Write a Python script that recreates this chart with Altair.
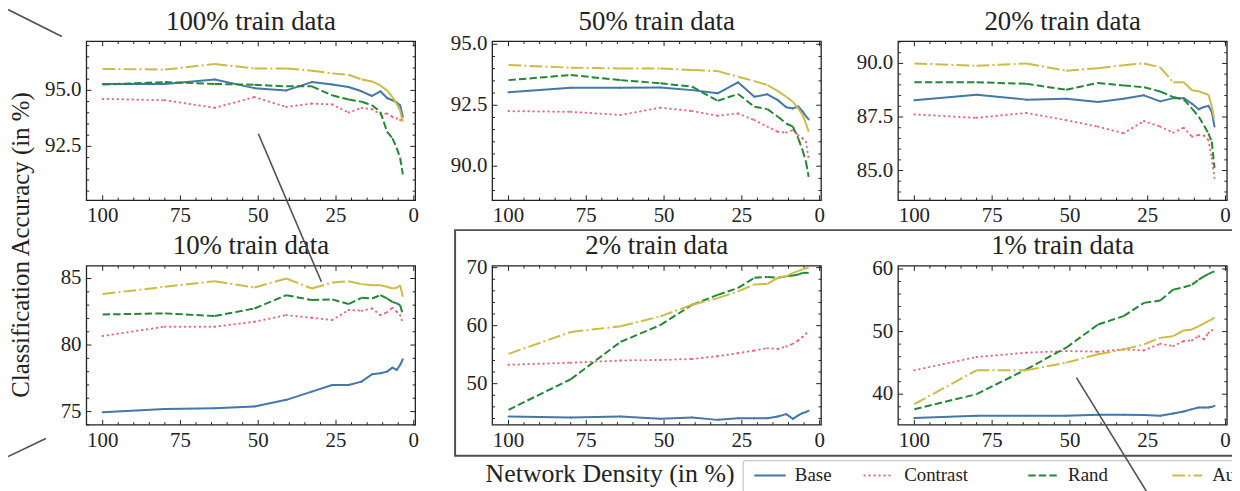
import math
import numpy as np
import pandas as pd
import altair as alt

FONT = "Liberation Serif"
INK = "#222222"
GREY = "#505050"
CW, CH = 1232, 483          # drawing area (page minus 8px margin)
PW, PH = 331, 160           # one panel's plot area

series_names = ["Base", "Contrast", "Rand", "Auto"]
series_colors = ["#4477AA", "#EE6677", "#228833", "#CCBB44"]
series_dashes = [None, [0.5, 4.5], [7.4, 3.2], [12.8, 3.2, 2, 3.2]]
series_caps = ["round", "round", "butt", "butt"]

density = [100, 80, 64, 51.2, 40.96, 32.77, 26.21, 20.97, 16.78, 13.42, 10.74, 8.59, 6.87, 5.5, 4.4, 3.52]
x_tick_values = [100, 75, 50, 25, 0]

titles = ["100% train data", "50% train data", "20% train data",
          "10% train data", "2% train data", "1% train data"]

base_100 = [95.29, 95.29, 95.49, 95.10, 95.00, 95.37, 95.26, 95.15, 94.96, 94.75, 94.96, 94.66, 94.56, 94.46, 94.34, 93.82]
contrast_100 = [94.62, 94.56, 94.22, 94.70, 94.26, 94.41, 94.37, 94.01, 94.22, 94.16, 93.93, 93.97, 93.82, 93.75, 93.68, 93.60]
rand_100 = [95.26, 95.37, 95.29, 95.25, 95.18, 95.18, 94.78, 94.59, 94.49, 94.34, 94.04, 93.16, 92.87, 92.43, 91.99, 91.25]
auto_100 = [95.96, 95.93, 96.18, 95.98, 95.98, 95.88, 95.76, 95.70, 95.49, 95.40, 95.22, 95.00, 94.70, 94.40, 94.10, 93.60]
star_100 = [64, 51.2, 80, 64]

base_50 = [93.03, 93.22, 93.22, 93.23, 93.12, 92.99, 93.44, 92.85, 92.95, 92.71, 92.42, 92.37, 92.45, 92.25, 92.05, 91.92]
contrast_50 = [92.26, 92.23, 92.10, 92.40, 92.26, 92.07, 92.16, 91.89, 91.62, 91.41, 91.38, 91.48, 91.27, 91.14, 91.00, 90.30]
rand_50 = [93.53, 93.74, 93.53, 93.40, 93.26, 92.68, 92.96, 92.44, 92.34, 92.03, 91.75, 91.62, 91.14, 90.66, 90.18, 89.56]
auto_50 = [94.15, 94.04, 94.01, 94.01, 93.95, 93.90, 93.67, 93.49, 93.33, 93.08, 92.85, 92.64, 92.37, 92.10, 91.75, 91.41]
star_50 = [26.21, 51.2, 80, 80]

base_20 = [88.28, 88.54, 88.31, 88.35, 88.20, 88.35, 88.51, 88.23, 88.38, 88.38, 88.12, 87.86, 87.97, 88.02, 87.74, 87.05]
contrast_20 = [87.62, 87.46, 87.69, 87.35, 87.05, 86.74, 87.31, 87.05, 86.77, 87.00, 86.58, 86.66, 86.63, 86.43, 85.58, 84.66]
rand_20 = [89.12, 89.12, 89.05, 88.77, 89.09, 88.97, 88.89, 88.69, 88.43, 88.32, 87.89, 87.51, 87.09, 86.74, 86.35, 85.12]
auto_20 = [90.00, 89.89, 90.00, 89.66, 89.78, 89.92, 90.00, 89.82, 89.12, 89.12, 88.75, 88.70, 88.60, 88.55, 88.00, 87.30]
star_20 = [26.21, 64, 80, 64]

base_10 = [74.95, 75.20, 75.25, 75.38, 75.88, 76.50, 77.00, 77.00, 77.25, 77.80, 77.88, 78.00, 78.30, 78.13, 78.50, 78.93]
contrast_10 = [80.68, 81.38, 81.38, 81.75, 82.25, 82.05, 81.88, 82.63, 82.58, 82.75, 82.25, 82.45, 82.80, 82.50, 82.25, 81.63]
rand_10 = [82.30, 82.38, 82.18, 82.75, 83.75, 83.38, 83.43, 83.08, 83.55, 83.50, 83.75, 83.50, 83.25, 83.13, 83.00, 82.30]
auto_10 = [83.83, 84.38, 84.80, 84.33, 85.00, 84.25, 84.70, 84.80, 84.58, 84.50, 84.50, 84.38, 84.25, 84.30, 84.50, 83.63]
star_10 = [3.52, 6.87, 10.74, 40.96]

base_2 = [44.34, 44.17, 44.34, 43.94, 44.17, 43.76, 44.05, 44.05, 44.05, 44.34, 44.75, 43.94, 44.52, 44.93, 45.10, 45.34]
contrast_2 = [53.26, 53.60, 54.00, 54.08, 54.26, 54.72, 55.25, 55.71, 56.12, 56.00, 56.41, 56.88, 57.46, 58.05, 58.63, 58.92]
rand_2 = [45.50, 50.76, 57.20, 60.10, 63.60, 65.30, 66.50, 68.25, 68.40, 68.25, 68.50, 68.66, 68.80, 69.10, 69.10, 69.10]
auto_2 = [55.13, 58.90, 59.90, 61.60, 63.60, 64.75, 65.90, 67.10, 67.20, 68.25, 68.50, 69.10, 69.40, 69.70, 69.90, 70.00]
star_2 = [3.52, 3.52, 5.5, 3.52]

base_1 = [36.18, 36.55, 36.55, 36.55, 36.71, 36.71, 36.66, 36.55, 36.92, 37.24, 37.61, 37.88, 37.88, 37.88, 37.98, 38.14]
contrast_1 = [43.82, 45.94, 46.63, 46.90, 46.79, 47.16, 47.00, 48.06, 47.69, 48.49, 48.60, 49.28, 48.75, 49.80, 50.19, 50.61]
rand_1 = [37.60, 40.00, 43.98, 47.43, 51.14, 52.47, 54.59, 54.96, 56.71, 57.08, 57.50, 58.30, 58.83, 59.20, 59.47, 59.63]
auto_1 = [38.41, 43.82, 43.82, 45.04, 46.37, 47.16, 47.96, 49.00, 49.28, 50.19, 50.35, 50.88, 51.30, 51.67, 51.94, 52.30]
star_1 = [3.52, 3.52, 3.52, 3.52]

panels_spec = [
    dict(vals=[base_100, contrast_100, rand_100, auto_100], stars=star_100,
         ydom=[90.09, 97.19], ymaj=[92.5, 95.0], ystep=0.5, fmt="{:.1f}"),
    dict(vals=[base_50, contrast_50, rand_50, auto_50], stars=star_50,
         ydom=[88.6, 95.12], ymaj=[90.0, 92.5, 95.0], ystep=0.5, fmt="{:.1f}"),
    dict(vals=[base_20, contrast_20, rand_20, auto_20], stars=star_20,
         ydom=[83.61, 91.03], ymaj=[85.0, 87.5, 90.0], ystep=0.5, fmt="{:.1f}"),
    dict(vals=[base_10, contrast_10, rand_10, auto_10], stars=star_10,
         ydom=[74.0, 85.95], ymaj=[75, 80, 85], ystep=1, fmt="{:.0f}"),
    dict(vals=[base_2, contrast_2, rand_2, auto_2], stars=star_2,
         ydom=[42.9, 70.3], ymaj=[50, 60, 70], ystep=2, fmt="{:.0f}"),
    dict(vals=[base_1, contrast_1, rand_1, auto_1], stars=star_1,
         ydom=[35.1, 60.5], ymaj=[40, 50, 60], ystep=2, fmt="{:.0f}"),
]

# subplot placement (grid origins inside the drawing area)
COL_X0 = [79, 487.5, 896]
ROW_Y0 = [32, 258]


def meta(i):
    s = panels_spec[i]
    return {"panel": i, "x0": COL_X0[i % 3], "y0": ROW_Y0[i // 3],
            "ylo": s["ydom"][0], "yhi": s["ydom"][1]}


seg_rows = {n: [] for n in series_names}
star_rows = {n: [] for n in series_names}
xt_rows, yt_rows, xl_rows, yl_rows, frame_rows = [], [], [], [], []
for i, spec in enumerate(panels_spec):
    m = meta(i)
    frame_rows.append({**m, "title": titles[i]})
    for name, vals, sd in zip(series_names, spec["vals"], spec["stars"]):
        for k in range(len(density) - 1):
            seg_rows[name].append({**m, "density": density[k], "acc": vals[k],
                                   "density2": density[k + 1], "acc2": vals[k + 1]})
        k = density.index(sd)
        star_rows[name].append({**m, "density": density[k], "acc": vals[k]})
    for v in range(0, 101, 5):
        xt_rows.append({**m, "v": float(v), "L": 5.0 if v % 25 == 0 else 2.7})
    for v in x_tick_values:
        xl_rows.append({**m, "v": float(v), "t": str(v)})
    lo, hi = spec["ydom"]
    step = spec["ystep"]
    for v in np.round(np.arange(math.ceil(lo / step) * step, hi + 1e-9, step), 3):
        major = any(abs(v - mj) < 1e-6 for mj in spec["ymaj"])
        yt_rows.append({**m, "v": float(v), "L": 5.0 if major else 2.7})
    for v in spec["ymaj"]:
        yl_rows.append({**m, "v": float(v), "t": spec["fmt"].format(v)})

xt_df = pd.DataFrame(xt_rows)
yt_df = pd.DataFrame(yt_rows)
xl_df = pd.DataFrame(xl_rows)
yl_df = pd.DataFrame(yl_rows)
frames_df = pd.DataFrame(frame_rows)
ONE = pd.DataFrame({"k": [0]})

XS = alt.Scale(domain=[0, CW], nice=False, zero=False)
YS = alt.Scale(domain=[0, CH], nice=False, zero=False)


def xpos(f):
    return f"datum.x0 + (105.2 - datum.{f}) * {PW} / 105.7"


def ypos(f):
    return f"{CH} - (datum.y0 + (datum.yhi - datum.{f}) / (datum.yhi - datum.ylo) * {PH})"


def X(f):
    return alt.X(f"{f}:Q", scale=XS, axis=None)


def Y(f):
    return alt.Y(f"{f}:Q", scale=YS, axis=None)


def label(t, x, y, angle=0, size=25, align="center"):
    return alt.Chart(ONE).mark_text(
        text=t, font=FONT, fontSize=size, color=INK, angle=angle,
        align=align, baseline="middle"
    ).encode(x=alt.value(x), y=alt.value(y))


layers = []

# panel frames
layers.append(alt.Chart(frames_df).transform_calculate(
    fx1="datum.x0", fx2=f"datum.x0 + {PW}", fy1=f"{CH} - datum.y0", fy2=f"{CH} - (datum.y0 + {PH})"
).mark_rect(fillOpacity=0, stroke=INK, strokeWidth=1.3).encode(
    x=X("fx1"), x2="fx2:Q", y=Y("fy1"), y2="fy2:Q"))

# inward ticks on four sides
layers.append(alt.Chart(xt_df).transform_calculate(
    px=xpos("v"), ya=f"{CH} - (datum.y0 + {PH})", yb=f"{CH} - (datum.y0 + {PH} - datum.L)"
).mark_rule(color=INK, strokeWidth=1).encode(x=X("px"), y=Y("ya"), y2="yb:Q"))
layers.append(alt.Chart(xt_df).transform_calculate(
    px=xpos("v"), ya=f"{CH} - datum.y0", yb=f"{CH} - (datum.y0 + datum.L)"
).mark_rule(color=INK, strokeWidth=1).encode(x=X("px"), y=Y("ya"), y2="yb:Q"))
layers.append(alt.Chart(yt_df).transform_calculate(
    py=ypos("v"), xa="datum.x0", xb="datum.x0 + datum.L"
).mark_rule(color=INK, strokeWidth=1).encode(x=X("xa"), x2="xb:Q", y=Y("py")))
layers.append(alt.Chart(yt_df).transform_calculate(
    py=ypos("v"), xa=f"datum.x0 + {PW}", xb=f"datum.x0 + {PW} - datum.L"
).mark_rule(color=INK, strokeWidth=1).encode(x=X("xa"), x2="xb:Q", y=Y("py")))

# tick labels
layers.append(alt.Chart(xl_df).transform_calculate(
    px=xpos("v"), py=f"{CH} - (datum.y0 + {PH} + 5)"
).mark_text(font=FONT, fontSize=21, color=INK, align="center", baseline="top").encode(
    x=X("px"), y=Y("py"), text="t:N"))
layers.append(alt.Chart(yl_df).transform_calculate(
    px="datum.x0 - 5", py=ypos("v")
).mark_text(font=FONT, fontSize=21, color=INK, align="right", baseline="middle").encode(
    x=X("px"), y=Y("py"), text="t:N"))

# panel titles
layers.append(alt.Chart(frames_df).transform_calculate(
    px=f"datum.x0 + {PW / 2}", py=f"{CH} - (datum.y0 - 11.5)"
).mark_text(font=FONT, fontSize=27, color=INK, align="center", baseline="alphabetic").encode(
    x=X("px"), y=Y("py"), text="title:N"))

# data series: consecutive points joined by rule segments
for name, col, dash, cap in zip(series_names, series_colors, series_dashes, series_caps):
    mk = dict(color=col, strokeWidth=2, strokeCap=cap)
    if dash:
        mk["strokeDash"] = dash
    layers.append(alt.Chart(pd.DataFrame(seg_rows[name])).transform_calculate(
        px=xpos("density"), py=ypos("acc"), px2=xpos("density2"), py2=ypos("acc2")
    ).mark_rule(**mk).encode(x=X("px"), y=Y("py"), x2="px2:Q", y2="py2:Q"))

# axis titles, frame box and key
layers += [
    label("Classification Accuracy (in %)", 13, 237, angle=270),
    label("Network Density (in %)", 606, 468, size=26),
    alt.Chart(ONE).mark_rect(fillOpacity=0, stroke=GREY, strokeWidth=2).encode(
        x=alt.value(450), x2=alt.value(1245), y=alt.value(222), y2=alt.value(449)),
    alt.Chart(ONE).mark_rect(color="white", stroke="#c8c8c8", strokeWidth=1.2,
                             cornerRadius=3).encode(
        x=alt.value(740), x2=alt.value(1255), y=alt.value(454), y2=alt.value(490)),
]
for name, col, dash, cap, lx in zip(series_names, series_colors, series_dashes, series_caps,
                                    [752, 862, 1027, 1172]):
    mk = dict(color=col, strokeWidth=2, strokeCap=cap)
    if dash:
        mk["strokeDash"] = dash
    layers.append(alt.Chart(ONE).mark_rule(**mk).encode(
        x=alt.value(lx), x2=alt.value(lx + 30), y=alt.value(469), y2=alt.value(469)))
    layers.append(label(name, lx + 40, 469, size=19, align="left"))


# arrow shafts (rules) before any symbol marks
def arrow_parts(x1, y1, x2, y2, head=13):
    dx, dy = x2 - x1, y2 - y1
    L = math.hypot(dx, dy)
    ux, uy = dx / L, dy / L
    hx, hy = round(x2 - ux * head / 2, 2), round(y2 - uy * head / 2, 2)
    ang = round(math.degrees(math.atan2(dx, -dy)) % 360, 2)
    shaft = alt.Chart(ONE).mark_rule(color=GREY, strokeWidth=1.6).encode(
        x=alt.value(x1), y=alt.value(y1), x2=alt.value(hx), y2=alt.value(hy))
    tip = alt.Chart(ONE).mark_point(
        shape="M0,-1L0.5,1L-0.5,1Z", size=head * head, filled=True,
        color=GREY, opacity=1, angle=ang
    ).encode(x=alt.value(hx), y=alt.value(hy))
    return shaft, tip


arrows = [arrow_parts(0, 0, 60, 30), arrow_parts(0, 450, 44, 429),
          arrow_parts(252, 125, 318, 280), arrow_parts(1149, 490, 1072, 365)]
layers += [a[0] for a in arrows]

# stars marking the selected density of each method
for name, col in zip(series_names, series_colors):
    layers.append(alt.Chart(pd.DataFrame(star_rows[name])).transform_calculate(
        px=xpos("density"), py=ypos("acc")
    ).mark_point(shape="star", filled=True, size=250, opacity=1, color=col).encode(
        x=X("px"), y=Y("py")))


def ellipse(cx, cy, w, h):
    r = h / w
    pts = []
    for k in range(73):
        t = 2 * math.pi * k / 72
        pts.append(f"{math.cos(t):.4f},{r * math.sin(t):.4f}")
    path = "M" + "L".join(pts) + "Z"
    return alt.Chart(ONE).mark_point(
        shape=path, size=w * w, filled=False, color=GREY, strokeWidth=1.8, opacity=1
    ).encode(x=alt.value(cx), y=alt.value(cy))


layers += [ellipse(201.8, 86.3, 139, 106), ellipse(371, 320.7, 140, 106)]
layers += [a[1] for a in arrows]

chart = alt.layer(*layers).properties(
    width=CW, height=CH, padding=0,
    autosize=alt.AutoSizeParams(type="none"),
).configure_view(strokeWidth=0)

chart.save("out.html", embed_options={"renderer": "svg", "actions": False})
